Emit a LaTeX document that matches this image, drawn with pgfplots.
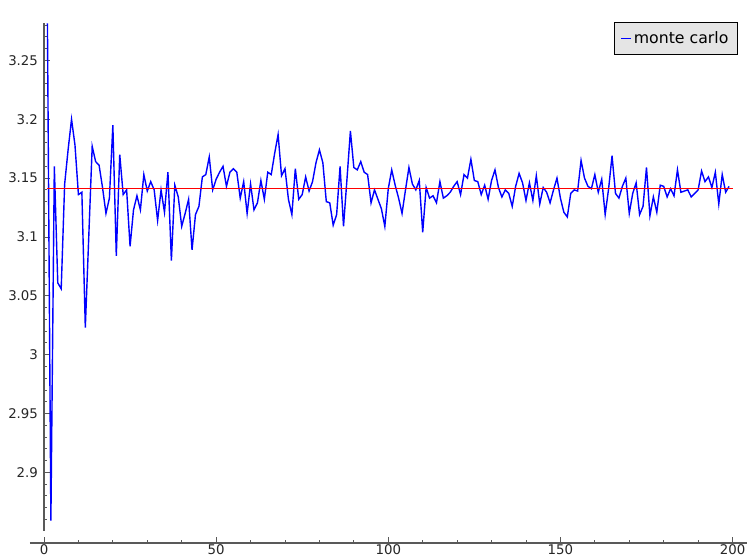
\documentclass[border=0pt]{standalone}
\usepackage{fontspec}
\setmainfont{DejaVu Sans}
\usepackage{pgfplots}
\pgfplotsset{compat=1.18}
\begin{document}
\begin{tikzpicture}
\begin{axis}[
  scale only axis, width=537.75pt, height=389.8pt,
  xmin=-4.07, xmax=204.2, ymin=2.840, ymax=3.2815,
  axis x line=bottom, axis y line=middle,
  x axis line style={-, black!65, line width=0.9pt},
  y axis line style={draw=none},
  xtick={0,50,100,150,200},
  xticklabels={0,50,100,150,200},
  minor x tick num=4,
  ytick={2.9,2.95,3,3.05,3.1,3.15,3.2,3.25},
  yticklabels={2.9,2.95,3,3.05,3.1,3.15,3.2,3.25},
  minor ytick={2.86,2.87,2.88,2.89,2.91,2.92,2.93,2.94,2.96,2.97,2.98,2.99,3.01,3.02,3.03,3.04,3.06,3.07,3.08,3.09,3.11,3.12,3.13,3.14,3.16,3.17,3.18,3.19,3.21,3.22,3.23,3.24,3.26,3.27,3.28},
  tick align=inside,
  major tick length=4.5pt, minor tick length=2.2pt,
  every tick/.style={black!65, line width=0.7pt},
  tick label style={font=\fontsize{10}{12}\selectfont, text=black!85},
  xticklabel style={yshift=2.2pt},
  yticklabel style={xshift=-1pt},
  legend style={at={(axis description cs:0.987,1.002)}, anchor=north east,
    fill=black!10, draw=black, line width=0.75pt,
    font=\fontsize{11.8}{14}\selectfont, inner xsep=4.6pt, inner ysep=4.6pt},
  legend image code/.code={\draw[#1, line width=1pt] (0pt,0pt) -- (7pt,0pt);},
  clip=false,
]
\addplot[blue, line width=1.05pt] coordinates {
(1,3.2815) (2,2.859) (3,3.160) (4,3.061) (5,3.056) (6,3.145) (7,3.174) (8,3.200) (9,3.178) (10,3.136)
(11,3.138) (12,3.023) (13,3.100) (14,3.177) (15,3.164) (16,3.161) (17,3.142) (18,3.120) (19,3.133) (20,3.195)
(21,3.084) (22,3.170) (23,3.136) (24,3.140) (25,3.092) (26,3.123) (27,3.135) (28,3.123) (29,3.153) (30,3.139)
(31,3.147) (32,3.140) (33,3.114) (34,3.140) (35,3.121) (36,3.155) (37,3.080) (38,3.144) (39,3.134) (40,3.109)
(41,3.120) (42,3.132) (43,3.089) (44,3.119) (45,3.126) (46,3.151) (47,3.153) (48,3.168) (49,3.140) (50,3.149)
(51,3.155) (52,3.160) (53,3.143) (54,3.155) (55,3.158) (56,3.155) (57,3.133) (58,3.147) (59,3.120) (60,3.145)
(61,3.123) (62,3.129) (63,3.148) (64,3.132) (65,3.155) (66,3.153) (67,3.171) (68,3.187) (69,3.152) (70,3.158)
(71,3.132) (72,3.119) (73,3.158) (74,3.132) (75,3.136) (76,3.151) (77,3.139) (78,3.147) (79,3.163) (80,3.174)
(81,3.163) (82,3.130) (83,3.129) (84,3.110) (85,3.119) (86,3.160) (87,3.109) (88,3.149) (89,3.190) (90,3.159)
(91,3.157) (92,3.164) (93,3.155) (94,3.153) (95,3.129) (96,3.140) (97,3.132) (98,3.124) (99,3.109) (100,3.141)
(101,3.157) (102,3.144) (103,3.133) (104,3.120) (105,3.140) (106,3.159) (107,3.145) (108,3.140) (109,3.148) (110,3.104)
(111,3.142) (112,3.133) (113,3.135) (114,3.129) (115,3.147) (116,3.133) (117,3.135) (118,3.138) (119,3.143) (120,3.147)
(121,3.136) (122,3.153) (123,3.150) (124,3.166) (125,3.148) (126,3.147) (127,3.136) (128,3.144) (129,3.132) (130,3.148)
(131,3.157) (132,3.142) (133,3.134) (134,3.140) (135,3.137) (136,3.126) (137,3.143) (138,3.154) (139,3.146) (140,3.131)
(141,3.146) (142,3.131) (143,3.152) (144,3.128) (145,3.142) (146,3.138) (147,3.129) (148,3.140) (149,3.150) (150,3.133)
(151,3.121) (152,3.117) (153,3.137) (154,3.140) (155,3.139) (156,3.165) (157,3.150) (158,3.143) (159,3.141) (160,3.153)
(161,3.138) (162,3.149) (163,3.119) (164,3.141) (165,3.169) (166,3.137) (167,3.133) (168,3.143) (169,3.150) (170,3.120)
(171,3.137) (172,3.146) (173,3.119) (174,3.126) (175,3.159) (176,3.118) (177,3.134) (178,3.121) (179,3.144) (180,3.143)
(181,3.134) (182,3.141) (183,3.135) (184,3.157) (185,3.138) (186,3.139) (187,3.140) (188,3.134) (189,3.137) (190,3.140)
(191,3.156) (192,3.147) (193,3.151) (194,3.142) (195,3.155) (196,3.128) (197,3.153) (198,3.138) (199,3.143)
};
\addlegendentry{monte carlo}
\addplot[red, line width=0.75pt, forget plot] coordinates {(1,3.14159) (200,3.14159)};
\draw[black!65, line width=0.9pt] (axis cs:0,2.8506) -- (axis cs:0,3.2815);
\coordinate (bl) at (axis cs:-12.78,2.8264);
\coordinate (tr) at (axis cs:204.49,3.3013);
\end{axis}
\pgfresetboundingbox
\useasboundingbox (bl) rectangle (tr);
\end{tikzpicture}
\end{document}
